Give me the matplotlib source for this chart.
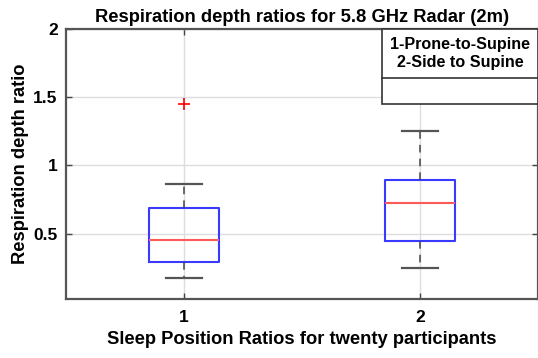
import matplotlib
matplotlib.use("Agg")
import matplotlib.pyplot as plt
from matplotlib.patches import Rectangle
from matplotlib.lines import Line2D

plt.rcParams['font.family'] = ['Liberation Sans', 'DejaVu Sans']

# Box statistics
positions = [1, 2]
q1 = [0.294, 0.446]
medians = [0.454, 0.723]
q3 = [0.684, 0.893]
whislo = [0.174, 0.248]
whishi = [0.866, 1.25]
fliers = [[1.449], []]
legend_lines = ["1-Prone-to-Supine", "2-Side to Supine"]

stats = []
for i in range(len(positions)):
    stats.append(dict(q1=q1[i], med=medians[i], q3=q3[i],
                      whislo=whislo[i], whishi=whishi[i], fliers=fliers[i]))

fig = plt.figure(figsize=(5.38, 3.58), dpi=100)
ax = fig.add_axes([66/538, 1 - 299/358, 472/538, 270/358])

ax.grid(True, color='#dddddd', linewidth=1.0, zorder=0)
ax.set_axisbelow(True)

ax.bxp(stats, positions=positions, widths=0.3, showfliers=True,
       boxprops=dict(color='#3a3aff', linewidth=1.5),
       medianprops=dict(color='#ff5a5a', linewidth=1.5),
       whiskerprops=dict(color='#444444', linewidth=1.1, linestyle=(0, (5, 4))),
       capprops=dict(color='#555555', linewidth=1.6),
       capwidths=0.155,
       flierprops=dict(marker='+', markeredgecolor='red', markersize=8,
                       markeredgewidth=1.2, linestyle='none'))

ax.set_xlim(0.5, 2.5)
ax.set_ylim(0.02, 2)
ax.set_xticks(positions)
ax.set_xticklabels(['1', '2'])
ax.set_yticks([0.5, 1, 1.5, 2])
ax.set_yticklabels(['0.5', '1', '1.5', '2'])
ax.tick_params(direction='in', top=True, right=True, length=4, width=1.0,
               color='#444444', labelsize=12.5)
ax.tick_params(axis='y', pad=6)
ax.tick_params(axis='x', pad=8)
for lab in ax.get_xticklabels() + ax.get_yticklabels():
    lab.set_fontweight('bold')
for s in ax.spines.values():
    s.set_color('#555555')
    s.set_linewidth(1.6)

ax.set_title('Respiration depth ratios for 5.8 GHz Radar (2m)',
             fontsize=13.2, fontweight='bold', pad=5)
ax.set_xlabel('Sleep Position Ratios for twenty participants',
              fontsize=13.2, fontweight='bold', labelpad=4)
ax.set_ylabel('Respiration depth ratio', fontsize=13.2, fontweight='bold',
              labelpad=3)

# legend-like box in the top right corner
x0, y_bot, y_mid = 0.669, 0.721, 0.82
ax.add_patch(Rectangle((x0, y_bot), 1 - x0, 1 - y_bot, transform=ax.transAxes,
                       facecolor='white', edgecolor='#333333', linewidth=1.2,
                       zorder=5, clip_on=False))
ax.add_line(Line2D([x0, 1], [y_mid, y_mid], transform=ax.transAxes,
                   color='#333333', linewidth=1.2, zorder=6))
ax.text((x0 + 1) / 2, (1 + y_mid) / 2, "\n".join(legend_lines),
        transform=ax.transAxes, ha='center', va='center', fontsize=11.6,
        fontweight='bold', zorder=7, linespacing=1.3)

fig.savefig('out.png', dpi=100)
